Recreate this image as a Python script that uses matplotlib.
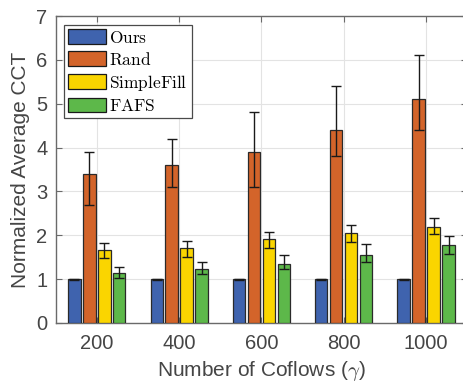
import matplotlib
matplotlib.use("Agg")
import matplotlib.pyplot as plt
import numpy as np

plt.rcParams['mathtext.fontset'] = 'cm'
plt.rcParams['font.family'] = ['Liberation Sans', 'DejaVu Sans']

categories = ['200', '400', '600', '800', '1000']
series_names = ['Ours', 'Rand', 'SimpleFill', 'FAFS']
ours = [1.0, 1.0, 1.0, 1.0, 1.0]
ours_lo = [0.99, 0.99, 0.99, 0.99, 0.99]
ours_hi = [1.01, 1.01, 1.01, 1.01, 1.01]
rand = [3.40, 3.60, 3.90, 4.40, 5.10]
rand_lo = [2.70, 3.10, 3.10, 3.80, 4.40]
rand_hi = [3.90, 4.20, 4.80, 5.40, 6.10]
simplefill = [1.66, 1.70, 1.91, 2.05, 2.20]
simplefill_lo = [1.48, 1.50, 1.71, 1.85, 2.04]
simplefill_hi = [1.82, 1.88, 2.08, 2.23, 2.40]
fafs = [1.13, 1.24, 1.35, 1.54, 1.78]
fafs_lo = [1.02, 1.11, 1.24, 1.40, 1.57]
fafs_hi = [1.28, 1.40, 1.55, 1.79, 1.98]

colors = ['#3F63AE', '#D3642A', '#FAD500', '#5DB84A']

fig = plt.figure(figsize=(4.63, 3.83), dpi=100)
ax = fig.add_axes([55.7/463, 1-323/383, 411.5/463, 307/383])

x = np.arange(1, len(categories)+1)
offsets = [-0.273, -0.091, 0.091, 0.273]
width = 0.15
data = [(ours, ours_lo, ours_hi), (rand, rand_lo, rand_hi),
        (simplefill, simplefill_lo, simplefill_hi), (fafs, fafs_lo, fafs_hi)]
for i, (vals, lo, hi) in enumerate(data):
    vals = np.array(vals); lo = np.array(lo); hi = np.array(hi)
    ax.bar(x + offsets[i], vals, width, color=colors[i], edgecolor='#2a2a2a',
           linewidth=0.9, label=r'$\mathrm{' + series_names[i] + '}$', zorder=3)
    ax.errorbar(x + offsets[i], vals, yerr=[vals - lo, hi - vals], fmt='none',
                ecolor='#1a1a1a', elinewidth=1.0, capsize=3.5, capthick=1.0, zorder=4)

ax.set_xlim(0.5, 5.5)
ax.set_ylim(0, 7)
ax.set_xticks(x)
ax.set_xticklabels(categories)
ax.set_yticks(range(0, 8))
ax.grid(True, color='#e3e3e3', linewidth=0.8, zorder=0)
ax.set_axisbelow(True)
for s in ax.spines.values():
    s.set_color('#6a6a6a')
    s.set_linewidth(1.0)
ax.tick_params(direction='in', top=True, right=True, length=4, width=0.8,
               color='#6a6a6a', labelsize=14.5, labelcolor='#454545')
ax.tick_params(axis='x', pad=8)
ax.tick_params(axis='y', pad=6)
ax.set_xlabel(r'Number of Coflows ($\gamma$)', fontsize=15, color='#454545')
ax.set_ylabel('Normalized Average CCT', fontsize=15, color='#454545')
ax.xaxis.set_label_coords(0.5, -0.117)
ax.yaxis.set_label_coords(-0.0855, 0.5)
ax.yaxis.label.set_verticalalignment('center')

leg = ax.legend(loc='upper left', bbox_to_anchor=(0.02, 0.971), borderaxespad=0,
                fontsize=12.5, handlelength=2.18, handleheight=0.92, handletextpad=0.17,
                labelspacing=0.29, borderpad=0.25, fancybox=False, framealpha=1,
                edgecolor='#4a4a4a')
leg.get_frame().set_linewidth(0.9)
for h in leg.legend_handles:
    h.set_edgecolor('#1a1a1a')

fig.savefig('out.png', dpi=100)
